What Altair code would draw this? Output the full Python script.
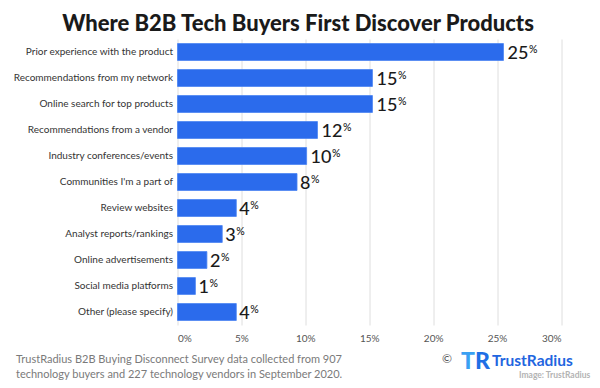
import altair as alt
import pandas as pd

categories = [
    "Prior experience with the product",
    "Recommendations from my network",
    "Online search for top products",
    "Recommendations from a vendor",
    "Industry conferences/events",
    "Communities I'm a part of",
    "Review websites",
    "Analyst reports/rankings",
    "Online advertisements",
    "Social media platforms",
    "Other (please specify)",
]
# bar lengths
bar_values = [25.5, 15.25, 15.25, 10.95, 10.1, 9.35, 4.6, 3.5, 2.3, 1.4, 4.6]
# printed labels next to the bars
value_labels = ["25", "15", "15", "12", "10", "8", "4", "3", "2", "1", "4"]
x_ticks = [0, 5, 10, 15, 20, 25, 30]

title_text = "Where B2B Tech Buyers First Discover Products"
footnote_lines = [
    "TrustRadius B2B Buying Disconnect Survey data collected from 907",
    "technology buyers and 227 technology vendors in September 2020.",
]

df = pd.DataFrame({"category": categories, "value": bar_values, "label": value_labels})

FONT = "Lato"
BLUE = "#2b6bec"

# page coordinates of plot-area origin
X0, Y0 = 177.5, 39.0
W, H = 383.5, 286
TOTAL_W, TOTAL_H = 584, 372

base = alt.Chart(df)

y_enc = alt.Y(
    "category:N",
    sort=categories,
    title=None,
    scale=alt.Scale(paddingInner=0.35, paddingOuter=0.175),
    axis=alt.Axis(
        domain=False, ticks=False, labelPadding=5, labelFontSize=10,
        labelFont=FONT, labelColor="#333333", labelLimit=200,
    ),
)
x_enc = alt.X(
    "value:Q",
    title=None,
    scale=alt.Scale(domain=[0, 30], nice=False, zero=True),
    axis=alt.Axis(
        values=x_ticks, labelExpr="datum.value + '%'", domain=False, ticks=False,
        grid=True, gridColor="#dedede", gridWidth=1, labelPadding=8,
        labelFontSize=10, labelFont=FONT, labelColor="#555555",
    ),
)

bars = base.mark_bar(color=BLUE, stroke="#4a84f2", strokeWidth=0.8).encode(x=x_enc, y=y_enc)

num2 = base.transform_filter("length(datum.label) == 2").mark_text(
    align="left", baseline="alphabetic", dx=4, dy=6.6, fontSize=18,
    font=FONT, fontWeight=500, color="#1a1a1a",
).encode(x="value:Q", y=alt.Y("category:N", sort=categories), text="label:N")
pct2 = base.transform_filter("length(datum.label) == 2").mark_text(
    align="left", baseline="alphabetic", dx=25.5, dy=0.5, fontSize=10.5,
    font=FONT, fontWeight=500, color="#1a1a1a",
).encode(x="value:Q", y=alt.Y("category:N", sort=categories), text=alt.value("%"))
num1 = base.transform_filter("length(datum.label) == 1").mark_text(
    align="left", baseline="alphabetic", dx=3, dy=6.6, fontSize=18,
    font=FONT, fontWeight=500, color="#1a1a1a",
).encode(x="value:Q", y=alt.Y("category:N", sort=categories), text="label:N")
pct1 = base.transform_filter("length(datum.label) == 1").mark_text(
    align="left", baseline="alphabetic", dx=14, dy=0.5, fontSize=10.5,
    font=FONT, fontWeight=500, color="#1a1a1a",
).encode(x="value:Q", y=alt.Y("category:N", sort=categories), text=alt.value("%"))

ann = alt.Chart(pd.DataFrame({"a": [0]}))

footnote = ann.mark_text(
    align="left", baseline="middle", fontSize=11, font=FONT, color="#7a7a7a",
    lineHeight=15,
).encode(x=alt.value(16 - X0), y=alt.value(360 - Y0), text=alt.value(footnote_lines))

copy_sym = ann.mark_text(
    align="left", baseline="alphabetic", fontSize=12, font=FONT, color="#555555",
).encode(x=alt.value(442 - X0), y=alt.value(363 - Y0), text=alt.value("©"))
logo_t = ann.mark_text(
    align="left", baseline="alphabetic", fontSize=23, font=FONT, fontWeight=900,
    color="#3aa0f2",
).encode(x=alt.value(461 - X0), y=alt.value(369 - Y0), text=alt.value("T"))
logo_r = ann.mark_text(
    align="left", baseline="alphabetic", fontSize=23, font=FONT, fontWeight=900,
    color="#1f6fe5",
).encode(x=alt.value(475 - X0), y=alt.value(369 - Y0), text=alt.value("R"))
brand = ann.mark_text(
    align="left", baseline="alphabetic", fontSize=15.5, font=FONT, fontWeight=700,
    color="#1f66e0",
).encode(x=alt.value(492 - X0), y=alt.value(366 - Y0), text=alt.value("TrustRadius"))
credit = ann.mark_text(
    align="left", baseline="alphabetic", fontSize=8.5, font=FONT, fontWeight=700,
    color="#b3b3b3",
).encode(x=alt.value(519 - X0), y=alt.value(377.5 - Y0), text=alt.value("Image: TrustRadius"))

chart = alt.layer(
    bars, num2, pct2, num1, pct1, footnote, copy_sym, logo_t, logo_r, brand, credit
).properties(
    width=W,
    height=H,
    title=alt.TitleParams(
        text=title_text, font=FONT, fontSize=22, fontWeight=900, color="#1a1a1a",
        anchor="middle", frame="group", dx=298 - (X0 + W / 2), offset=3,
    ),
    autosize=alt.AutoSizeParams(type="none"),
    padding={
        "left": X0 - 8,
        "top": Y0 - 8,
        "right": TOTAL_W - (X0 - 8) - W,
        "bottom": TOTAL_H - (Y0 - 8) - H,
    },
).configure_view(stroke=None).configure_axis(labelFont=FONT)

chart.save("out.html", embed_options={"renderer": "svg", "actions": False})
